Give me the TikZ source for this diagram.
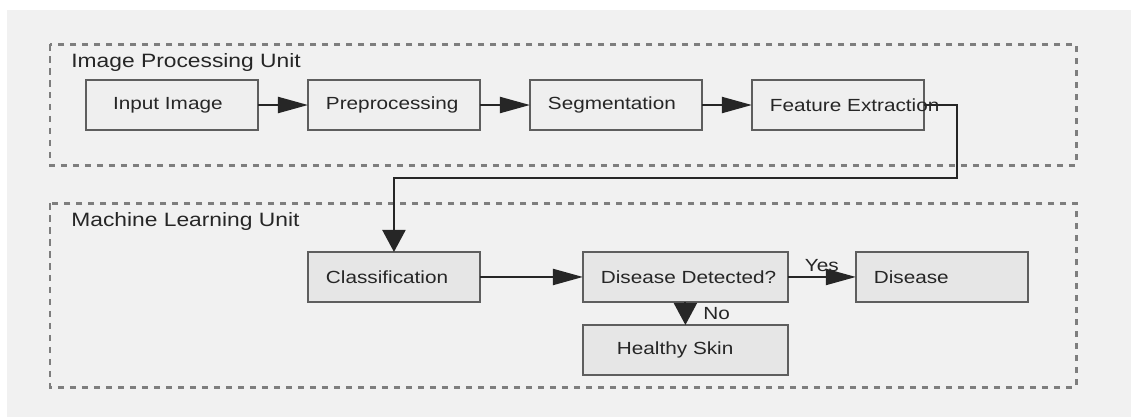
\documentclass[tikz,border=0pt]{standalone}
\usepackage{fontspec}
\setmainfont[FakeStretch=1.18]{Liberation Sans}
\usetikzlibrary{arrows.meta,positioning}
\definecolor{canvas}{HTML}{F1F1F1}
\definecolor{edge}{HTML}{5E5E5E}
\definecolor{ink}{HTML}{262626}
\definecolor{groupline}{HTML}{7E7E7E}
\definecolor{stagefill}{HTML}{EFEFEF}
\definecolor{mlfill}{HTML}{E6E6E6}
\tikzset{
  stage/.style={draw=edge,fill=stagefill,line width=1.1pt,align=left,outer sep=0pt,
    minimum height=1cm,inner xsep=0.36cm,text width=2.72cm,text=ink,
    font=\fontsize{10}{12}\selectfont},
  mlstage/.style={stage,fill=mlfill},
  widestage/.style={mlstage,text width=3.38cm},
  group/.style={draw=groupline,line width=1.7pt,dash pattern=on 0.13cm off 0.11cm},
  grouplabel/.style={anchor=west,inner sep=0pt,text=ink,font=\fontsize{11}{13}\selectfont},
  arrow/.style={-{Triangle[length=0.6cm,width=0.32cm]},draw=ink,line width=1.2pt},
  droparrow/.style={-{Triangle[length=0.44cm,width=0.46cm]},draw=ink,line width=1.2pt},
  answer/.style={font=\fontsize{10}{12}\selectfont,text=ink,inner sep=0pt}
}
\begin{document}
\begin{tikzpicture}[x=0.02cm,y=-0.02cm,node distance=1cm]
  \useasboundingbox (0,0) rectangle (1131,417);
  \fill[canvas] (7,10) rectangle (1131,417);
  % the two units
  \draw[group] (50,44) rectangle (1076,165);
  \draw[group] (50,203) rectangle (1076,387);
  \node[grouplabel] (iplabel) at (71,62) {Image Processing Unit};
  \node[grouplabel] (mllabel) at (71,221) {Machine Learning Unit};

  \node[stage] (input) at (172,105) {\hspace*{0.18cm}Input Image};
  \node[stage,right=of input] (prep) {Preprocessing};
  \node[stage,right=of prep] (seg) {Segmentation};
  \node[stage,right=of seg] (feat) {\mbox{Feature Extraction}};

  \node[mlstage,below=2.44cm of prep] (class) {Classification};
  \node[widestage,right=2.06cm of class] (detect) {\mbox{Disease Detected?}};
  \node[mlstage,right=1.36cm of detect] (disease) {Disease};
  \node[widestage,below=0.46cm of detect] (healthy) {\hspace*{0.32cm}Healthy Skin};

  \coordinate (bend) at (957,178);
  \draw[arrow] (input) -- (prep);
  \draw[arrow] (prep) -- (seg);
  \draw[arrow] (seg) -- (feat);
  \draw[droparrow] (feat.east) -| (bend) -| (class.north);
  \draw[arrow] (class) -- (detect);
  \draw[arrow] (detect) -- node[answer,above=0.08cm] {Yes} (disease);
  \draw[droparrow] (detect) -- node[answer,right=0.34cm] {No} (healthy);
\end{tikzpicture}
\end{document}
